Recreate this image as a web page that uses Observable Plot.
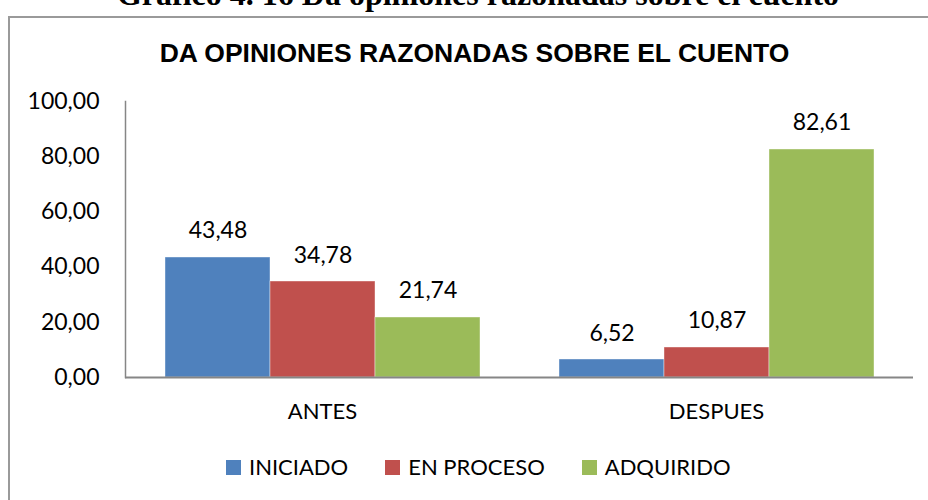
<!DOCTYPE html>
<html>
<head>
<meta charset="utf-8">
<script src="https://cdn.jsdelivr.net/npm/d3@7"></script>
<script src="https://cdn.jsdelivr.net/npm/@observablehq/plot@0.6"></script>
<style>
  html, body { margin: 0; padding: 0; background: #fff; }
  #wrap { position: relative; width: 928px; height: 500px; overflow: hidden; background: #fff; }
  #box { position: absolute; left: 8px; top: 16px; width: 1000px; height: 600px; border: 2px solid #9a9a9a; box-sizing: border-box; }
  #t1 { position: absolute; left: 0; width: 956px; top: -21.8px; text-align: center; white-space: nowrap;
        font-family: "Liberation Serif", "Times New Roman", serif; font-weight: bold; font-size: 32px; line-height: 32px; color: #000; }
  #t2 { position: absolute; left: 0; width: 949px; top: 39.6px; text-align: center; white-space: nowrap;
        font-family: "Liberation Sans", Arial, sans-serif; font-weight: bold; font-size: 26.5px; line-height: 26.5px; color: #000; }
  #chart { position: absolute; left: 0; top: 0; }
  #legend { position: absolute; left: 226px; top: 455.5px; white-space: nowrap;
            font-family: Lato, sans-serif; font-size: 22px; line-height: 22px; color: #000; }
  #legend .item { display: inline-block; margin-right: 37px; }
  #legend .sw { display: inline-block; width: 15px; height: 15px; margin-right: 8px; vertical-align: baseline; }
</style>
</head>
<body>
<div id="wrap">
  <div id="box"></div>
  <div id="t1">Gráfico 4. 16 Da opiniones razonadas sobre el cuento</div>
  <div id="t2">DA OPINIONES RAZONADAS SOBRE EL CUENTO</div>
  <div id="chart"></div>
  <div id="legend"></div>
</div>
<script>
const groups = ["ANTES", "DESPUES"];
const series = ["INICIADO", "EN PROCESO", "ADQUIRIDO"];
const antes = [43.48, 34.78, 21.74];
const despues = [6.52, 10.87, 82.61];
const colors = ["#4F81BD", "#C0504D", "#9BBB59"];
const yTicks = [0, 20, 40, 60, 80, 100];

const data = [];
groups.forEach((g, i) => series.forEach((s, j) =>
  data.push({group: g, serie: s, value: (i === 0 ? antes : despues)[j]})));

const fmt = d => d.toFixed(2).replace(".", ",");

const chart = Plot.plot({
  width: 928,
  height: 500,
  marginLeft: 125,
  marginRight: 15,
  marginTop: 101,
  marginBottom: 123,
  style: {fontFamily: "Lato, sans-serif", fontSize: "23px", color: "#000", background: "transparent"},
  fx: {domain: groups, paddingInner: 0, paddingOuter: 0, label: null},
  x: {domain: series, paddingInner: 0, paddingOuter: 0.376, axis: null},
  y: {domain: [0, 100]},
  color: {domain: series, range: colors},
  marks: [
    Plot.barY(data, {fx: "group", x: "serie", y: "value", fill: "serie", stroke: "#ffffff", strokeOpacity: 0.5, strokeWidth: 0.8}),
    Plot.text(data, {fx: "group", x: "serie", y: "value", text: d => fmt(d.value), lineAnchor: "bottom", dy: -19, fontSize: 23, fill: "#000"}),
    Plot.ruleY([0], {stroke: "#868686", strokeWidth: 2}),
    Plot.frame({anchor: "left", facetAnchor: "left", stroke: "#868686", strokeWidth: 1.5}),
    Plot.axisY({ticks: yTicks, tickFormat: fmt, tickSize: 0, tickPadding: 26, label: null, fontSize: 23}),
    Plot.axisFx({anchor: "bottom", tickSize: 0, tickPadding: 26, label: null, fontSize: 22})
  ]
});
document.getElementById("chart").appendChild(chart);

const legend = document.getElementById("legend");
series.forEach((s, i) => {
  const item = document.createElement("span");
  item.className = "item";
  const sw = document.createElement("span");
  sw.className = "sw";
  sw.style.background = colors[i];
  item.appendChild(sw);
  item.appendChild(document.createTextNode(s));
  legend.appendChild(item);
});
</script>
</body>
</html>
